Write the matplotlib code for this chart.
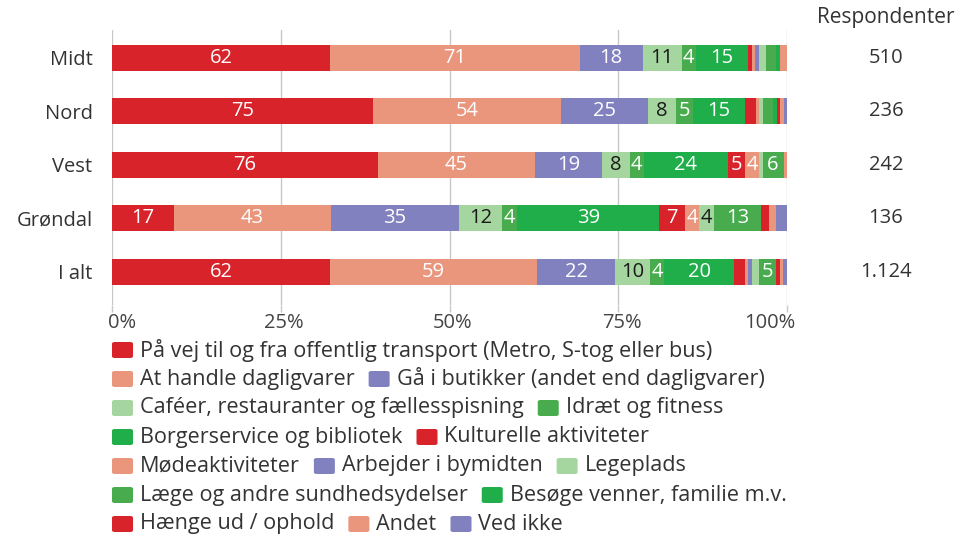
import matplotlib
matplotlib.use('Agg')
import matplotlib.pyplot as plt
import matplotlib.transforms as mtransforms
from matplotlib.patches import FancyBboxPatch
import numpy as np

plt.rcParams['font.family'] = ['Open Sans', 'DejaVu Sans']

regions = ['Midt', 'Nord', 'Vest', 'Grøndal', 'I alt']
respondents = ['510', '236', '242', '136', '1.124']

categories = [
    'På vej til og fra offentlig transport (Metro, S-tog eller bus)',
    'At handle dagligvarer',
    'Gå i butikker (andet end dagligvarer)',
    'Caféer, restauranter og fællesspisning',
    'Idræt og fitness',
    'Borgerservice og bibliotek',
    'Kulturelle aktiviteter',
    'Mødeaktiviteter',
    'Arbejder i bymidten',
    'Legeplads',
    'Læge og andre sundhedsydelser',
    'Besøge venner, familie m.v.',
    'Hænge ud / ophold',
    'Andet',
    'Ved ikke',
]

transport     = [62, 75, 76, 17, 62]
dagligvarer   = [71, 54, 45, 43, 59]
butikker      = [18, 25, 19, 35, 22]
cafeer        = [11, 8, 8, 12, 10]
idraet        = [4, 5, 4, 4, 4]
borgerservice = [15, 15, 24, 39, 20]
kulturelle    = [1, 3, 5, 7, 3]
moede         = [1, 1, 4, 4, 1]
arbejder      = [1, 0, 0, 0, 1]
legeplads     = [2, 1, 1, 4, 2]
laege         = [3, 3, 6, 13, 5]
besoege       = [1, 1, 0, 0, 0]
haenge        = [0, 1, 0, 2, 1]
andet         = [2, 1, 1, 2, 1]
ved_ikke      = [0, 1, 0, 3, 1]

series = [transport, dagligvarer, butikker, cafeer, idraet, borgerservice,
          kulturelle, moede, arbejder, legeplads, laege, besoege,
          haenge, andet, ved_ikke]

palette = ['#D8232A', '#E9967C', '#8181BF', '#A6D6A0', '#48AC4E', '#1FAE49']
colors = [palette[i % 6] for i in range(len(categories))]
text_colors = ['white' if (i % 6) != 3 else '#1a1a1a' for i in range(len(categories))]

FS = 14.5
LFS = 15.6
W, H = 964, 536
fig = plt.figure(figsize=(W / 100, H / 100), dpi=100)

def fx(px):
    return px / W

def fy(py):
    return 1 - py / H

ax = fig.add_axes([fx(112), fy(305), fx(787) - fx(112), (305 - 30) / H])

data = np.array(series, dtype=float)
totals = data.sum(axis=0)
pct = data / totals * 100
y = np.arange(len(regions))

left = np.zeros(len(regions))
for i, cat in enumerate(categories):
    ax.barh(y, pct[i], left=left, height=0.49, color=colors[i], zorder=2,
            linewidth=0)
    for j in range(len(regions)):
        v = data[i, j]
        if v >= 4:
            ax.text(left[j] + pct[i, j] / 2, y[j], f'{int(v)}', ha='center',
                    va='center', color=text_colors[i], fontsize=FS, zorder=3)
    left += pct[i]

ax.set_xlim(0, 100)
ax.set_ylim(4 + 0.62, -0.52)
for g in [0, 25, 50, 75, 100]:
    ax.axvline(g, color='#c8c8c8', lw=1, zorder=0)
for s in ax.spines.values():
    s.set_visible(False)
ax.set_xticks([0, 25, 50, 75, 100])
ax.set_xticklabels([])
ax.tick_params(axis='x', length=5, color='#c8c8c8', width=1)
ax.set_yticks(y)
ax.set_yticklabels(regions, fontsize=FS, color='#333333')
ax.tick_params(axis='y', length=0, pad=14)

# x tick labels
xl = [(0, '0%', 'left', -0.6), (25, '25%', 'center', 0.4), (50, '50%', 'center', 0.4),
      (75, '75%', 'center', 0.5), (100, '100%', 'right', 1.2)]
for v, lab, ha, off in xl:
    ax.text(v + off, 4 + 0.62 + 0.33, lab, ha=ha, va='center', fontsize=FS,
            color='#444444', transform=ax.transData, clip_on=False)

# Respondenter column
fig.text(fx(886), fy(18), 'Respondenter', ha='center', va='center',
         fontsize=15, color='#333333')
blend = mtransforms.blended_transform_factory(ax.transAxes, ax.transData)
for j, r in enumerate(respondents):
    ax.text(1.0 + (886 - 787) / (787 - 112), y[j], r, ha='center', va='center',
            fontsize=FS, color='#333333', transform=blend, clip_on=False)

# Flowing legend
rows = [[0], [1, 2], [3, 4], [5, 6], [7, 8, 9], [10, 11], [12, 13, 14]]
row_y = [350, 379, 408, 437, 466, 495, 524]
renderer = fig.canvas.get_renderer()
for r, items in enumerate(rows):
    x = 112
    yc = row_y[r]
    for k in items:
        box = FancyBboxPatch((fx(x), fy(yc + 8)), fx(21), 16 / H,
                             boxstyle='round,pad=0,rounding_size=0.003',
                             transform=fig.transFigure, facecolor=colors[k],
                             edgecolor='none')
        fig.add_artist(box)
        t = fig.text(fx(x + 28), fy(yc), categories[k], ha='left', va='center',
                     fontsize=LFS, color='#333333')
        bb = t.get_window_extent(renderer)
        x = bb.x1 + 14

fig.savefig('out.png', dpi=100)
